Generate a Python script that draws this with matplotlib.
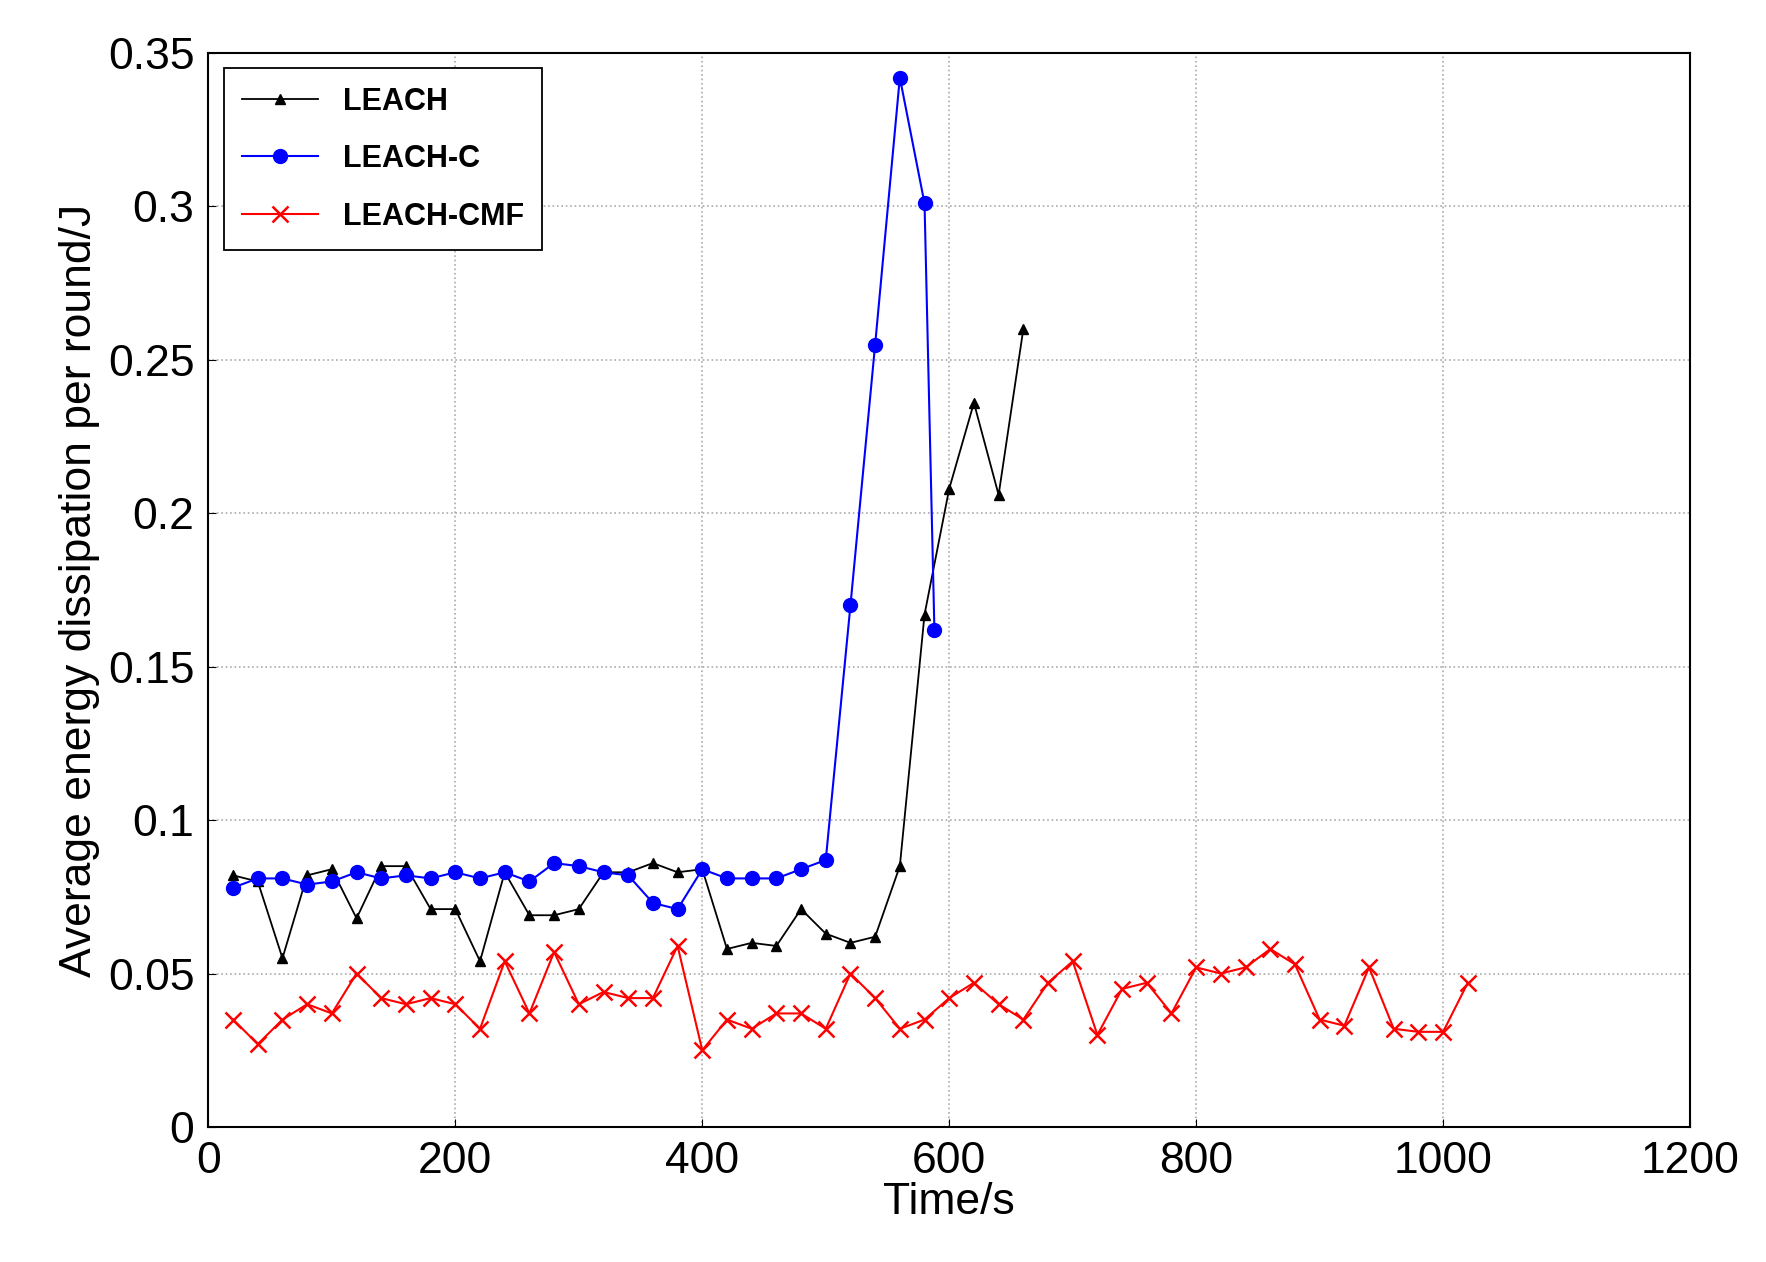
import matplotlib
matplotlib.use("Agg")
import matplotlib.pyplot as plt

plt.rcParams['font.family'] = ['Liberation Sans', 'DejaVu Sans']

# LEACH
leach_t = list(range(20, 661, 20))
leach_e = [0.082, 0.080, 0.055, 0.082, 0.084, 0.068, 0.085, 0.085, 0.071, 0.071,
           0.054, 0.083, 0.069, 0.069, 0.071, 0.083, 0.083, 0.086, 0.083, 0.084,
           0.058, 0.060, 0.059, 0.071, 0.063, 0.060, 0.062, 0.085, 0.167, 0.208,
           0.236, 0.206, 0.260]

# LEACH-C
leachc_t = list(range(20, 581, 20)) + [588]
leachc_e = [0.078, 0.081, 0.081, 0.079, 0.080, 0.083, 0.081, 0.082, 0.081, 0.083,
            0.081, 0.083, 0.080, 0.086, 0.085, 0.083, 0.082, 0.073, 0.071, 0.084,
            0.081, 0.081, 0.081, 0.084, 0.087, 0.170, 0.255, 0.342, 0.301, 0.162]

# LEACH-CMF
cmf_t = list(range(20, 1021, 20))
cmf_e = [0.035, 0.027, 0.035, 0.040, 0.037, 0.050, 0.042, 0.040, 0.042, 0.040,
         0.032, 0.054, 0.037, 0.057, 0.040, 0.044, 0.042, 0.042, 0.059, 0.025,
         0.035, 0.032, 0.037, 0.037, 0.032, 0.050, 0.042, 0.032, 0.035, 0.042,
         0.047, 0.040, 0.035, 0.047, 0.054, 0.030, 0.045, 0.047, 0.037, 0.052,
         0.050, 0.052, 0.058, 0.053, 0.035, 0.033, 0.052, 0.032, 0.031, 0.031,
         0.047]

fig = plt.figure(figsize=(17.66, 12.62), dpi=100)
ax = fig.add_axes([0.118, 0.107, 0.839, 0.851])

ax.plot(leach_t, leach_e, color='black', marker='^', markersize=7, lw=1.3, label='LEACH')
ax.plot(leachc_t, leachc_e, color='blue', marker='o', markersize=10, lw=1.5, label='LEACH-C')
ax.plot(cmf_t, cmf_e, color='red', marker='x', markersize=11, mew=1.8, lw=1.5, label='LEACH-CMF')

ax.set_xlim(0, 1200)
ax.set_ylim(0, 0.35)
ax.set_xticks(range(0, 1201, 200))
ax.set_yticks([0, 0.05, 0.1, 0.15, 0.2, 0.25, 0.3, 0.35])
ax.set_yticklabels(['0', '0.05', '0.1', '0.15', '0.2', '0.25', '0.3', '0.35'])
ax.tick_params(labelsize=32, direction='in', length=6)
ax.tick_params(axis='x', pad=10)
ax.tick_params(axis='y', pad=10)
ax.grid(True, linestyle=':', color='#aaaaaa', lw=1.2)
for s in ax.spines.values():
    s.set_linewidth(1.5)

ax.set_xlabel('Time/s', fontsize=32, labelpad=0)
ax.set_ylabel('Average energy dissipation per round/J', fontsize=32, labelpad=6)

leg = ax.legend(loc='upper left', prop={'weight': 'bold', 'size': 22},
                fancybox=False, edgecolor='black', framealpha=1, handlelength=2.5,
                borderpad=0.6, labelspacing=0.9, borderaxespad=0.5)
leg.get_frame().set_linewidth(1.3)

fig.savefig('out.png', dpi=100)
